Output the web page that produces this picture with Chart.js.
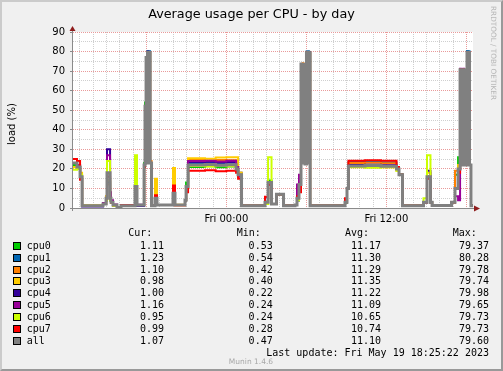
<!DOCTYPE html>
<html>
<head>
<meta charset="utf-8">
<script src="https://cdn.jsdelivr.net/npm/chart.js@4.4.0/dist/chart.umd.min.js"></script>
<style>
  html, body { margin: 0; padding: 0; background: #f0f0f0; }
  #wrap { position: relative; width: 503px; height: 371px; overflow: hidden; font-family: 'DejaVu Sans', sans-serif; color: #000; }
  #chart { position: absolute; left: 0; top: 0; }
  #frame { position: absolute; left: 0; top: 0; width: 503px; height: 371px; box-sizing: border-box;
           border-style: solid; border-width: 2px; border-color: #cbcbcb #999 #999 #cbcbcb; pointer-events: none; }
  .t { position: absolute; white-space: pre; }
  #title { left: 0; width: 503px; top: 6px; text-align: center; font-size: 12.8px; line-height: 15px; }
  #ylabel { left: -18px; top: 118px; width: 60px; text-align: center; font-size: 10px; line-height: 12px; transform: rotate(-90deg); }
  #rrd { left: 433px; top: 48px; width: 120px; text-align: center; font-size: 7.3px; line-height: 10px; color: #b4b4b4; transform: rotate(90deg); }
  #munin { left: 151px; width: 200px; top: 357px; text-align: center; font-size: 7.5px; line-height: 9px; color: #a8a8a8; }
  .mono { font-family: 'DejaVu Sans Mono', monospace; font-size: 10px; line-height: 12px; }
  .sw { position: absolute; width: 8px; height: 8px; box-sizing: border-box; border: 1px solid #000; }
</style>
</head>
<body>
<div id="wrap">
  <canvas id="chart" width="503" height="371"></canvas>
  <div class="t" id="title">Average usage per CPU - by day</div>
  <div class="t" id="ylabel">load (%)</div>
  <div class="t" id="rrd">RRDTOOL / TOBI OETIKER</div>
  <div id="legend"></div>
  <div class="t" id="munin">Munin 1.4.6</div>
  <div id="frame"></div>
</div>
<script>
// time of each sample, in hours since Thu 00:00 (values hold until the next sample)
const hours = [
  12.50, 12.80, 13.03, 13.18, 14.75, 14.98, 15.05, 15.28, 15.35, 15.50,
  15.80, 16.10, 17.15, 17.30, 17.83, 17.90, 17.98, 18.04, 18.09, 18.15,
  18.21, 18.28, 18.39, 18.65, 18.80, 20.00, 20.15, 20.90, 20.98, 21.13,
  22.40, 23.20, 24.00, 24.73, 24.88, 25.14, 26.90, 27.13, 27.39, 27.76,
  28.29, 29.15, 29.30, 29.45, 29.60, 29.66, 29.72, 29.78, 29.84, 29.90,
  30.01, 30.07, 30.13, 30.19, 30.22, 30.28, 32.90, 33.05, 33.16, 34.40,
  35.60, 36.76, 36.95, 37.21, 38.79, 39.05, 39.31, 39.43, 40.89, 41.15,
  41.38, 41.53, 41.59, 41.65, 41.71, 41.77, 41.83, 41.92, 41.98, 42.05,
  42.11, 42.17, 42.24, 42.35, 42.50
];

const cpu0 = [
  22, 21, 16, 1.2, 2, 4, 14, 4, 2.5, 1.3,
  0.3, 1.4, 10, 1.5, 23, 54, 77, 23, 79.3, 23,
  79.2, 23, 1.2, 3, 1.5, 5, 1.5, 4, 13, 21,
  21.3, 20.8, 21.2, 20, 17, 1.2, 2, 14, 2, 7,
  1.2, 1.5, 4, 12, 73, 23, 73, 23, 72.5, 22.5,
  79.3, 23, 79.2, 23, 79, 1.2, 2.5, 10, 21.5, 21.6,
  21.4, 20, 17, 1.2, 3, 16, 3, 1.3, 3, 17,
  26, 70.5, 22, 70.3, 22, 70.5, 54, 22, 54, 79.37,
  22, 79.2, 22, 1.2, 1.11
];
const cpu1 = [
  23, 22, 16, 1.0, 2, 4, 13, 5, 3, 1.5,
  0.3, 1.2, 11, 1.3, 22, 52, 77, 23, 80.28, 23,
  80.1, 23, 1.2, 3, 1.5, 5, 1.5, 4, 11, 23,
  23.2, 22.9, 23.1, 21, 18, 1.2, 2, 12, 2, 7,
  1.3, 1.5, 4, 12, 73.7, 23, 73.5, 23, 73, 22.5,
  80, 23, 80.1, 23, 79.8, 1.2, 3, 10, 23.5, 23.6,
  23.4, 21, 17, 1.2, 3, 16, 3, 1.3, 3, 10,
  20, 70.7, 22, 70.5, 22, 70.7, 54.4, 22, 54.4, 80.28,
  22, 80.2, 22, 1.2, 1.23
];
const cpu2 = [
  23, 21, 17, 1.3, 2, 6, 12, 6, 3, 1.2,
  0.3, 1.1, 10, 1.4, 22, 52, 77, 23, 79.78, 23,
  79.6, 24, 1.2, 5, 1.5, 6, 1.4, 4, 11, 24.5,
  24.3, 24.6, 24.4, 22, 18, 1.2, 2, 12, 2, 7,
  1.1, 1.5, 5, 12, 73.7, 23, 74, 23, 73, 22.5,
  79.5, 23, 79.7, 23, 79.4, 1.2, 3, 10, 23, 23.2,
  22.9, 20, 17, 1.2, 3, 16, 3, 1.3, 3, 19,
  20, 70.7, 22, 70.5, 22, 70.7, 54.4, 22, 54.4, 79.5,
  22, 79.4, 22, 1.2, 1.10
];
const cpu3 = [
  21, 21, 18, 1.1, 2.5, 6, 14, 4, 2.5, 1.4,
  0.3, 1.0, 10, 1.5, 22, 52, 77, 23, 79.7, 23,
  79.74, 23, 1.2, 15, 1.5, 20.5, 1.6, 4, 11, 25.5,
  25.2, 25.8, 25.9, 26, 18, 1.2, 2, 12, 2, 7,
  1.2, 1.5, 4, 10, 73.7, 23, 73.5, 23, 73, 22.5,
  79.5, 23, 79.6, 23, 79.4, 1.2, 3, 10, 21, 21.2,
  20.9, 19, 17, 1.2, 3, 18, 3, 1.3, 3, 10,
  22, 70.7, 22, 70.5, 22, 70.7, 54.4, 22, 54.4, 79.6,
  22, 79.5, 22, 1.2, 0.98
];
const cpu4 = [
  23, 21, 15, 0.8, 2, 5, 30, 4, 3, 1.5,
  0.3, 1.3, 9, 1.2, 21, 52, 77, 23, 79.98, 23,
  79.8, 23, 1.2, 3, 1.5, 5, 1.5, 4, 11, 23.5,
  23.6, 23.3, 23.5, 20, 17, 1.2, 3, 12, 2, 7,
  1.2, 1.5, 4, 12, 73.7, 23, 73.5, 23, 73, 22.5,
  79.5, 23, 79.7, 23, 79.4, 1.2, 3, 10, 22, 22.1,
  21.8, 20, 17, 1.2, 3, 19, 3, 1.3, 3, 10,
  20, 70.7, 22, 70.5, 22, 70.7, 54.4, 22, 54.4, 79.7,
  22, 79.6, 22, 1.2, 1.00
];
const cpu5 = [
  23, 22, 15, 1.0, 2.5, 5, 27, 8, 4, 1.8,
  0.3, 1.2, 8, 1.6, 22, 52, 77, 23, 79.65, 23,
  79.5, 23, 1.2, 3, 1.5, 5, 1.5, 4, 11, 24,
  24.2, 23.8, 24.1, 21, 16, 1.2, 5.5, 13, 2, 7,
  1.2, 1.5, 12, 17, 73.7, 23, 73.5, 23, 73, 22.5,
  79.4, 23, 79.5, 23, 79.3, 1.2, 3, 10, 21.5, 21.4,
  21.6, 20, 17, 1.2, 3, 16, 3, 1.3, 3, 6,
  4, 71.2, 22, 71, 22, 71.2, 54.4, 22, 54.4, 79.5,
  22, 79.4, 22, 1.2, 1.16
];
const cpu6 = [
  19.5, 20, 17, 1.2, 2, 4, 24, 4, 3, 1.2,
  0.3, 1.0, 27, 1.5, 21, 50, 77, 23, 79.6, 23,
  79.73, 23, 1.2, 3, 1.5, 5, 1.5, 4, 11, 21.5,
  21.2, 21.7, 21.4, 19, 17, 1.2, 2, 26, 2, 7,
  1.2, 1.5, 4, 9, 73.7, 23, 73.5, 23, 73, 22.5,
  79.5, 23, 79.6, 23, 79.3, 1.2, 3, 10, 20.8, 20.6,
  20.9, 19, 17, 1.2, 5, 27, 3, 1.3, 3, 10,
  20, 70.7, 22, 70.5, 22, 70.7, 54.4, 22, 54.4, 79.6,
  22, 79.5, 22, 1.2, 0.95
];
const cpu7 = [
  25, 24, 14.5, 1.0, 2, 5, 16, 5, 3, 1.5,
  0.3, 1.5, 3, 1.5, 21, 52, 76, 23, 79.6, 23,
  79.73, 23, 1.2, 6.5, 1.5, 11.5, 1.4, 4, 8, 19,
  19.3, 18.8, 19.1, 18, 15, 1.2, 5.7, 12, 2, 7,
  1.2, 1.5, 6, 8, 73.7, 23, 73.5, 23, 73, 22.5,
  79.5, 23, 79.6, 23, 79.3, 1.2, 5, 10, 24.2, 24.4,
  24.1, 21, 17, 1.2, 3, 15, 3, 1.3, 3, 10,
  18, 70.7, 22, 70.5, 22, 70.7, 54.4, 22, 54.4, 79.6,
  22, 79.5, 22, 1.2, 0.99
];
const all = [
  23, 21, 16, 1.2, 2, 5, 18, 5, 3, 1.5,
  0.3, 1.2, 11, 1.5, 22, 52, 77, 23, 79.6, 23,
  79.5, 23, 1.2, 5, 1.5, 7.5, 1.5, 4, 11, 22,
  22.2, 21.9, 22.1, 20, 17, 1.2, 3, 13, 2, 7,
  1.2, 1.5, 5, 12, 73.7, 23, 73.5, 23, 73, 22.5,
  79.4, 23, 79.6, 23, 79.3, 1.2, 3, 10, 21.5, 21.7,
  21.4, 20, 17, 1.2, 3, 16, 3, 1.3, 3, 10,
  20, 70.7, 22, 70.5, 22, 70.7, 54.4, 22, 54.4, 79.6,
  22, 79.5, 22, 1.2, 1.07
];

const seriesNames = ['cpu0', 'cpu1', 'cpu2', 'cpu3', 'cpu4', 'cpu5', 'cpu6', 'cpu7', 'all'];
const seriesValues = [cpu0, cpu1, cpu2, cpu3, cpu4, cpu5, cpu6, cpu7, all];
const seriesColors = ['#00cc00', '#0066b3', '#ff8000', '#ffcc00', '#330099', '#990099', '#ccff00', '#ff0000', '#808080'];

// legend statistics
const curVals = [1.11, 1.23, 1.10, 0.98, 1.00, 1.16, 0.95, 0.99, 1.07];
const minVals = [0.53, 0.54, 0.42, 0.40, 0.22, 0.24, 0.24, 0.28, 0.47];
const avgVals = [11.17, 11.30, 11.29, 11.35, 11.22, 11.09, 10.65, 10.74, 11.10];
const maxVals = [79.37, 80.28, 79.78, 79.74, 79.98, 79.65, 79.73, 79.73, 79.60];

const xLabelHours = [24, 36];
const xLabelTexts = ['Fri 00:00', 'Fri 12:00'];
const lastUpdate = 'Last update: Fri May 19 18:25:22 2023';

const majorGrid = '#e99a9a';
const minorGrid = '#cfcfcf';

const gridHours = [];
for (let h = 13; h <= 42; h++) gridHours.push(h);

// white canvas, axes and arrows like rrdtool
const framePlugin = {
  id: 'muninFrame',
  beforeDraw(chart) {
    const { ctx, chartArea: a } = chart;
    ctx.save();
    ctx.fillStyle = '#ffffff';
    ctx.fillRect(a.left, a.top, a.right - a.left, a.bottom - a.top);
    ctx.restore();
  },
  afterDatasetsDraw(chart) {
    const { ctx, chartArea: a } = chart;
    const ax = a.left - 0.5, ay = a.bottom + 0.5;
    ctx.save();
    ctx.strokeStyle = '#8a8a8a';
    ctx.lineWidth = 1;
    ctx.beginPath();
    ctx.moveTo(ax, a.bottom + 3); ctx.lineTo(ax, a.top - 2);
    ctx.moveTo(a.left - 3, ay); ctx.lineTo(a.right + 2, ay);
    ctx.stroke();
    ctx.fillStyle = '#8f1d1d';
    ctx.beginPath();
    ctx.moveTo(ax, a.top - 6); ctx.lineTo(ax - 3, a.top - 1); ctx.lineTo(ax + 3, a.top - 1);
    ctx.closePath(); ctx.fill();
    ctx.beginPath();
    ctx.moveTo(a.right + 7, ay); ctx.lineTo(a.right + 1, ay - 3); ctx.lineTo(a.right + 1, ay + 3);
    ctx.closePath(); ctx.fill();
    ctx.restore();
  }
};

// 'all' is drawn last and a bit wider, so it covers the cpu lines it sits on
const datasets = seriesNames.map((name, i) => ({
  label: name,
  data: hours.map((h, k) => ({ x: h, y: seriesValues[i][k] })),
  borderColor: seriesColors[i],
  borderWidth: name === 'all' ? 3 : 2,
  stepped: true,
  pointRadius: 0,
  order: seriesNames.length - i
}));

const tickFont = { family: 'DejaVu Sans', size: 10 };

new Chart(document.getElementById('chart'), {
  type: 'line',
  data: { datasets },
  options: {
    responsive: false,
    animation: false,
    devicePixelRatio: 1,
    layout: { padding: { left: 0, top: 32, right: 30, bottom: 143 } },
    plugins: { legend: { display: false }, tooltip: { enabled: false }, title: { display: false } },
    scales: {
      x: {
        type: 'linear', min: 12.5, max: 42.5,
        afterBuildTicks: s => { s.ticks = gridHours.map(v => ({ value: v })); },
        afterFit: s => { s.height = 20; },
        ticks: {
          autoSkip: false, maxRotation: 0, padding: 2, color: '#000', font: tickFont,
          callback: v => { const k = xLabelHours.indexOf(v); return k < 0 ? '' : xLabelTexts[k]; }
        },
        grid: {
          color: c => (c.tick && c.tick.value % 6 === 0) ? majorGrid : minorGrid,
          lineWidth: 1, tickLength: 3, tickColor: 'rgba(0,0,0,0)'
        },
        border: { display: false, dash: [1, 1] }
      },
      y: {
        min: 0, max: 90,
        afterFit: s => { s.width = 73; },
        ticks: {
          stepSize: 5, autoSkip: false, padding: 5, color: '#000', font: tickFont,
          callback: v => (v % 10 === 0 ? v : '')
        },
        grid: {
          color: c => (c.tick && c.tick.value % 10 === 0) ? majorGrid : minorGrid,
          lineWidth: 1, tickLength: 3,
          tickColor: c => (c.tick && c.tick.value % 10 === 0) ? '#8a8a8a' : 'rgba(0,0,0,0)'
        },
        border: { display: false, dash: [1, 1] }
      }
    }
  },
  plugins: [framePlugin]
});

// legend table (rrdtool style, monospace)
const legend = document.getElementById('legend');
function addText(txt, left, right, cy) {
  const d = document.createElement('div');
  d.className = 't mono';
  d.textContent = txt;
  d.style.top = (cy - 6) + 'px';
  if (right != null) { d.style.right = (503 - right) + 'px'; d.style.textAlign = 'right'; }
  else d.style.left = left + 'px';
  legend.appendChild(d);
}
const colEnds = [164, 272.7, 381, 489];
const headStarts = [128.3, 236.7, 345, 452.7];
['Cur:', 'Min:', 'Avg:', 'Max:'].forEach((h, j) => addText(h, headStarts[j], null, 233.3));
seriesNames.forEach((name, i) => {
  const cy = 245.7 + i * 11.9;
  const sw = document.createElement('div');
  sw.className = 'sw';
  sw.style.left = '13px';
  sw.style.top = (cy - 4) + 'px';
  sw.style.background = seriesColors[i];
  legend.appendChild(sw);
  addText(name, 26.7, null, cy);
  [curVals, minVals, avgVals, maxVals].forEach((arr, j) => addText(arr[i].toFixed(2), null, colEnds[j], cy));
});
addText(lastUpdate, null, 489, 352.7);
</script>
</body>
</html>
